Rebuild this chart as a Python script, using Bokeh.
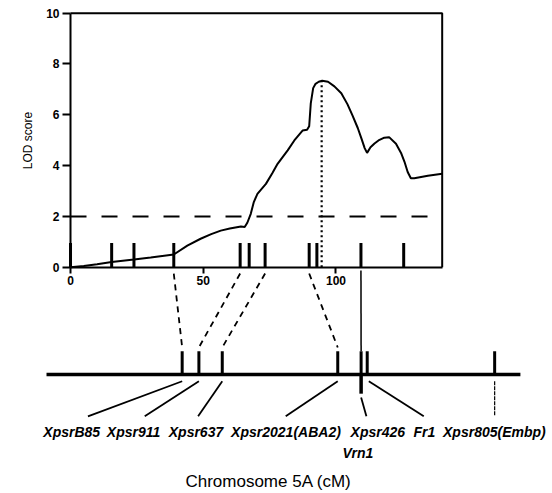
from bokeh.plotting import figure
from bokeh.models import Range1d, FixedTicker
from bokeh.core.properties import value
from bokeh.embed import file_html
from bokeh.resources import INLINE

# ---------------- data ----------------
# LOD profile along chromosome 5A (cM, LOD)
pos_cm = [0, 5, 10, 15.5, 23.9, 30.2, 38.9, 44, 49, 53, 56.6, 60, 64.2, 65.6, 66.6,
          67.9, 69, 70.4, 73.6, 76, 78, 81.8, 84.3, 87.4, 89.1, 89.9, 90.5, 91.4, 92.3,
          93.5, 94.8, 97, 99.4, 102, 104.3, 106.2, 108.2, 109.6, 110.8, 111.7, 113,
          114.5, 116, 118.2, 120, 122.6, 124.5, 125.8, 127, 128.2, 129.5, 134.6, 140]
lod = [0, 0.05, 0.12, 0.2, 0.3, 0.38, 0.5, 0.85, 1.12, 1.3, 1.44, 1.52, 1.6, 1.58, 1.75,
       2.1, 2.55, 2.89, 3.28, 3.7, 4.07, 4.6, 4.99, 5.38, 5.41, 5.55, 6.45, 7.05, 7.22,
       7.3, 7.34, 7.3, 7.12, 6.85, 6.42, 5.98, 5.48, 5.06, 4.69, 4.5, 4.72,
       4.87, 4.99, 5.1, 5.12, 4.86, 4.5, 4.15, 3.75, 3.5, 3.5, 3.6, 3.68]

plot_markers_cm = [0, 15.5, 23.9, 38.9, 63.9, 67.3, 73.3, 89.9, 92.8, 109.4, 125.5]
peak_cm, peak_lod = 94.6, 7.32
threshold_lod = 2.0
x_ticks = [0, 50, 100]
y_ticks = [0, 2, 4, 6, 8, 10]
x_max, y_max = 140, 10

# chromosome map (cM from the start of the drawn chromosome)
chrom_length = 178.5
chrom_markers = [51.1, 57.4, 66.2, 109.7, 118.5, 120.8, 168.8]
chrom_labels = ["XpsrB85", "Xpsr911", "Xpsr637", "Xpsr2021(ABA2)", "Xpsr426", "Fr1", "Xpsr805(Embp)"]
second_label = "Vrn1"
# QTL-plot marker -> chromosome marker links
dashed_links = [(38.9, 51.1), (63.9, 57.4), (73.3, 66.2), (89.9, 109.7)]
solid_link = (109.4, 118.5)

# ---------------- layout constants ----------------
MAP_ORIGIN = -9.04          # where the chromosome drawing starts on the cM axis
label_x = [9.5, 32.8, 56.3, 90.2, 124.8, 142.3, 168.7]       # label centres (map cM)
label_line_end = [15.6, 37.0, 57.1, 90.1, 120.5, 142.1, 168.8]
vrn_label_x = 117.3
MARKER_H = 0.95
LINK_TOP, LINK_BOTTOM = -0.25, -3.16
CHR_TICK_TOP, CHR_Y, VRN_BOTTOM = -3.31, -4.22, -4.98
LBL_LINE_TOP, LBL_LINE_BOTTOM = -4.49, -5.87
LBL_Y, VRN_LBL_Y, TITLE_Y = -6.50, -7.30, -8.43
FONT = value("Liberation Sans")

W, H = 552, 493
p = figure(width=W, height=H, output_backend="svg", toolbar_location=None,
           x_range=Range1d(-26.37, 181.55), y_range=Range1d(-8.91, 10.5),
           min_border=0, min_border_left=0, min_border_right=0,
           min_border_top=0, min_border_bottom=0)
p.outline_line_color = None
p.grid.visible = False
p.background_fill_color = "white"
p.border_fill_color = "white"

# axes through the origin of the LOD plot
for ax, ticks, bounds in ((p.xaxis[0], x_ticks, (0, x_max)), (p.yaxis[0], y_ticks, (0, y_max))):
    ax.fixed_location = 0
    ax.bounds = bounds
    ax.ticker = FixedTicker(ticks=ticks)
    ax.axis_line_width = 2
    ax.major_tick_line_width = 2
    ax.major_tick_in = 0
    ax.minor_tick_line_color = None
    ax.major_label_text_font = "Liberation Sans"
    ax.major_label_text_font_style = "bold"
    ax.major_label_text_font_size = "12px"
    ax.major_label_text_color = "black"
p.xaxis[0].major_tick_out = 6
p.xaxis[0].major_label_standoff = 3
p.yaxis[0].major_tick_out = 8
p.yaxis[0].major_label_standoff = 3
p.yaxis[0].axis_label = "LOD score"
p.yaxis[0].axis_label_text_font = "Liberation Sans"
p.yaxis[0].axis_label_text_font_style = "normal"
p.yaxis[0].axis_label_text_font_size = "12px"
p.yaxis[0].axis_label_text_color = "black"
p.yaxis[0].axis_label_standoff = 8

# frame top / right
p.line([0, x_max, x_max], [y_max, y_max, 0], line_color="black", line_width=2)

# threshold
p.line([0, x_max], [threshold_lod, threshold_lod], line_color="black", line_width=2,
       line_dash="16 15")
# peak
p.line([peak_cm, peak_cm], [0, peak_lod], line_color="black", line_width=2.2, line_dash="2 3")
# LOD curve
p.line(pos_cm, lod, line_color="black", line_width=2)
# markers
p.segment(x0=plot_markers_cm, y0=[0] * len(plot_markers_cm), x1=plot_markers_cm,
          y1=[MARKER_H] * len(plot_markers_cm), line_color="black", line_width=3)

# links
p.segment(x0=[a for a, b in dashed_links], y0=[LINK_TOP] * len(dashed_links),
          x1=[b + MAP_ORIGIN for a, b in dashed_links], y1=[LINK_BOTTOM] * len(dashed_links),
          line_color="black", line_width=1.8, line_dash="6 5")
p.segment(x0=[solid_link[0]], y0=[-0.13], x1=[solid_link[1] + MAP_ORIGIN], y1=[CHR_TICK_TOP],
          line_color="black", line_width=1.5)

# chromosome
p.line([MAP_ORIGIN, MAP_ORIGIN + chrom_length], [CHR_Y, CHR_Y], line_color="black", line_width=3.5)
cm_x = [m + MAP_ORIGIN for m in chrom_markers]
p.segment(x0=cm_x, y0=[CHR_TICK_TOP] * len(cm_x), x1=cm_x, y1=[CHR_Y] * len(cm_x),
          line_color="black", line_width=3)
vrn_x = chrom_markers[4] + MAP_ORIGIN
p.segment(x0=[vrn_x], y0=[CHR_Y], x1=[vrn_x], y1=[VRN_BOTTOM], line_color="black", line_width=3.5)

# label leader lines
x0s, y0s, x1s, y1s = [], [], [], []
for i, (m, e) in enumerate(zip(chrom_markers, label_line_end)):
    if i == 6:
        continue
    start_y = VRN_BOTTOM - 0.15 if i == 4 else LBL_LINE_TOP
    start_x = m + (0.6 if i == 5 else 0)
    x0s.append(start_x + MAP_ORIGIN); y0s.append(start_y)
    x1s.append(e + MAP_ORIGIN); y1s.append(LBL_LINE_BOTTOM)
p.segment(x0=x0s, y0=y0s, x1=x1s, y1=y1s, line_color="black", line_width=1.8)
p.segment(x0=[chrom_markers[6] + MAP_ORIGIN], y0=[LBL_LINE_TOP],
          x1=[label_line_end[6] + MAP_ORIGIN], y1=[LBL_LINE_BOTTOM],
          line_color="black", line_width=1.2, line_dash="4 1")

# labels
p.text(x=[lx + MAP_ORIGIN for lx in label_x], y=[LBL_Y] * len(label_x), text=chrom_labels,
       text_font=FONT, text_font_style="bold italic", text_font_size="14px",
       text_align="center", text_baseline="alphabetic", text_color="black")
p.text(x=[vrn_label_x + MAP_ORIGIN], y=[VRN_LBL_Y], text=[second_label],
       text_font=FONT, text_font_style="bold italic", text_font_size="14px",
       text_align="center", text_baseline="alphabetic", text_color="black")
p.text(x=[74.6], y=[TITLE_Y], text=["Chromosome 5A (cM)"],
       text_font=FONT, text_font_size="17px",
       text_align="center", text_baseline="alphabetic", text_color="black")

open("out.html", "w").write(file_html(p, INLINE))
